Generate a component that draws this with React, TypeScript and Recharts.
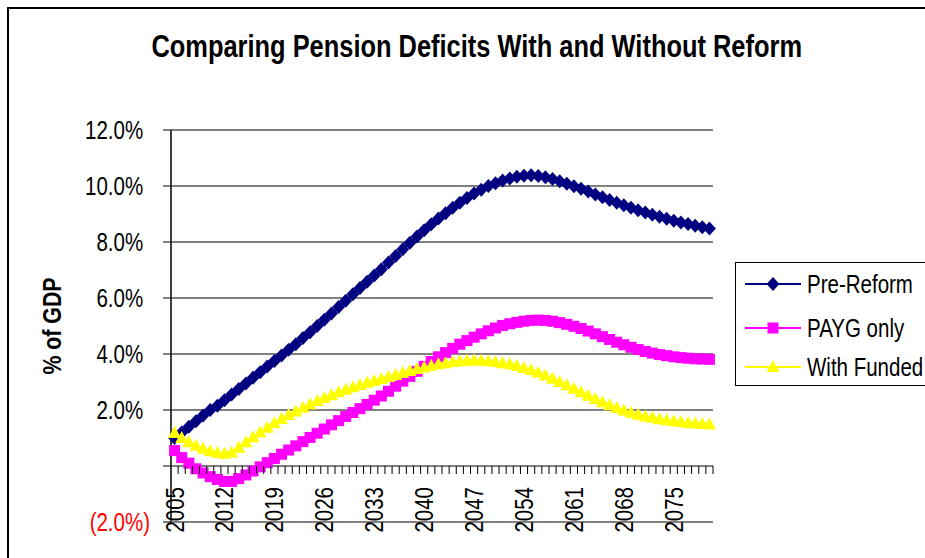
import React from "react";
import { LineChart, Line, XAxis, YAxis, CartesianGrid, ReferenceLine } from "recharts";

// Chart data
const years = [
  2005, 2006, 2007, 2008, 2009, 2010, 2011, 2012, 2013, 2014, 2015, 2016, 2017, 2018, 2019,
  2020, 2021, 2022, 2023, 2024, 2025, 2026, 2027, 2028, 2029, 2030, 2031, 2032, 2033, 2034,
  2035, 2036, 2037, 2038, 2039, 2040, 2041, 2042, 2043, 2044, 2045, 2046, 2047, 2048, 2049,
  2050, 2051, 2052, 2053, 2054, 2055, 2056, 2057, 2058, 2059, 2060, 2061, 2062, 2063, 2064,
  2065, 2066, 2067, 2068, 2069, 2070, 2071, 2072, 2073, 2074, 2075, 2076, 2077, 2078, 2079, 2080,
];

const preReform = [
  1.0, 1.2, 1.4, 1.6, 1.8, 2.0, 2.15, 2.35, 2.55, 2.75, 2.95, 3.15, 3.35, 3.55, 3.75,
  3.95, 4.15, 4.35, 4.57, 4.78, 5.0, 5.22, 5.45, 5.68, 5.9, 6.13, 6.36, 6.58, 6.8, 7.03,
  7.27, 7.5, 7.74, 7.97, 8.2, 8.42, 8.63, 8.84, 9.03, 9.22, 9.4, 9.57, 9.73, 9.87, 10.0,
  10.1, 10.2, 10.27, 10.33, 10.37, 10.38, 10.36, 10.31, 10.25, 10.17, 10.08, 9.99, 9.9, 9.8, 9.7,
  9.6, 9.5, 9.4, 9.31, 9.22, 9.13, 9.05, 8.97, 8.9, 8.83, 8.76, 8.7, 8.64, 8.58, 8.53, 8.48,
];

const paygOnly = [
  0.55, 0.3, 0.1, -0.1, -0.25, -0.38, -0.48, -0.55, -0.55, -0.45, -0.32, -0.18, -0.03, 0.12, 0.27,
  0.42, 0.57, 0.72, 0.87, 1.02, 1.17, 1.32, 1.47, 1.62, 1.77, 1.91, 2.05, 2.2, 2.35, 2.5,
  2.67, 2.85, 3.03, 3.2, 3.38, 3.56, 3.73, 3.9, 4.05, 4.2, 4.35, 4.48, 4.6, 4.72, 4.83,
  4.93, 5.02, 5.08, 5.13, 5.17, 5.2, 5.21, 5.2, 5.17, 5.12, 5.06, 4.99, 4.91, 4.82, 4.72,
  4.62, 4.52, 4.42, 4.33, 4.24, 4.16, 4.09, 4.03, 3.98, 3.94, 3.9, 3.87, 3.85, 3.83, 3.82, 3.81,
];

const withFunded = [
  1.18, 1.0, 0.85, 0.72, 0.62, 0.53, 0.47, 0.44, 0.48, 0.65, 0.85, 1.03, 1.2, 1.37, 1.53,
  1.68, 1.82, 1.95, 2.08, 2.2, 2.32, 2.43, 2.53, 2.63, 2.72, 2.81, 2.89, 2.97, 3.04, 3.11,
  3.18, 3.25, 3.32, 3.39, 3.46, 3.52, 3.58, 3.63, 3.67, 3.71, 3.74, 3.76, 3.77, 3.76, 3.74,
  3.71, 3.67, 3.63, 3.57, 3.5, 3.42, 3.33, 3.23, 3.12, 3.0, 2.88, 2.76, 2.63, 2.51, 2.39,
  2.28, 2.17, 2.07, 1.98, 1.9, 1.83, 1.77, 1.72, 1.67, 1.63, 1.6, 1.57, 1.54, 1.52, 1.5, 1.48,
];

const yTicks = [-2, 0, 2, 4, 6, 8, 10, 12];
const seriesNames = ["Pre-Reform", "PAYG only", "With Funded"];
const seriesColors = ["#000080", "#FF00FF", "#FFFF00"];

const data = years.map((year, i) => ({
  year: String(year),
  pre: preReform[i],
  payg: paygOnly[i],
  funded: withFunded[i],
}));

// layout (Arial Narrow look: Liberation Sans squeezed horizontally)
const FONT = '"Liberation Sans", Arial, sans-serif';
const NARROW = 0.82;
const W = 925;
const H = 558;
const PLOT_LEFT = 171;
const PLOT_RIGHT = 713;
const PLOT_TOP = 130;
const PLOT_BOTTOM = 522;
const Y_MIN = -2;
const Y_MAX = 12;
const zeroY = PLOT_TOP + ((Y_MAX - 0) / (Y_MAX - Y_MIN)) * (PLOT_BOTTOM - PLOT_TOP);
const step = (PLOT_RIGHT - PLOT_LEFT) / years.length;

const Marker = ({ shape, cx, cy, color }: any) => {
  if (cx == null || cy == null) return null;
  if (shape === "diamond") {
    return <path d={`M${cx},${cy - 7}L${cx + 6.5},${cy}L${cx},${cy + 7}L${cx - 6.5},${cy}Z`} fill={color} />;
  }
  if (shape === "square") {
    return <rect x={cx - 5.5} y={cy - 5.5} width={11} height={11} fill={color} />;
  }
  return <path d={`M${cx},${cy - 7}L${cx + 6.5},${cy + 5}L${cx - 6.5},${cy + 5}Z`} fill={color} />;
};

const shapes = ["diamond", "square", "triangle"];

const makeDot = (shape: string, color: string) => (props: any) => (
  <Marker key={`${shape}-${props.index}`} shape={shape} cx={props.cx} cy={props.cy} color={color} />
);

const YTick = (props: any) => {
  const { x, y, payload } = props;
  const v = payload.value;
  if (v === 0) return null;
  const label = `${Math.abs(v).toFixed(1)}%`;
  return (
    <g transform={`translate(${x}, ${y}) scale(${NARROW}, 1)`}>
      <text x={0} y={0} dy="0.36em" textAnchor="end" fontFamily={FONT} fontSize={25} fill={v < 0 ? "#FF0000" : "#000"}>
        {v < 0 ? `(${label})` : label}
        {v > 0 && <tspan fill="transparent">)</tspan>}
      </text>
    </g>
  );
};

const XTick = (props: any) => {
  const { x, index, payload } = props;
  return (
    <g>
      <line x1={x + step / 2} x2={x + step / 2} y1={zeroY} y2={zeroY + 8} stroke="#000" />
      {index % 7 === 0 && (
        <g transform={`translate(${x}, ${zeroY + 21}) rotate(-90) scale(${NARROW}, 1)`}>
          <text x={0} y={0} textAnchor="end" dy="0.36em" fontFamily={FONT} fontSize={25} fill="#000">
            {payload.value}
          </text>
        </g>
      )}
    </g>
  );
};

const YLabel = (props: any) => {
  const vb = props.viewBox || {};
  const cy = (vb.y || PLOT_TOP) + (vb.height || PLOT_BOTTOM - PLOT_TOP) / 2;
  return (
    <g transform={`translate(52, ${cy}) rotate(-90) scale(${NARROW}, 1)`}>
      <text x={0} y={0} textAnchor="middle" dy="0.36em" fontFamily={FONT} fontSize={26} fontWeight="bold" fill="#000">
        % of GDP
      </text>
    </g>
  );
};

const narrowSpan: React.CSSProperties = {
  display: "inline-block",
  transform: `scaleX(${NARROW})`,
  whiteSpace: "nowrap",
};

const LegendBox = () => (
  <div
    style={{
      position: "absolute",
      left: 735,
      top: 262,
      width: 200,
      height: 124,
      border: "1px solid #000",
      background: "#fff",
      boxSizing: "border-box",
    }}
  >
    {seriesNames.map((name, i) => (
      <div
        key={name}
        style={{ position: "absolute", left: 9, top: [7, 51, 90][i], display: "flex", alignItems: "center", height: 28 }}
      >
        <svg width={56} height={20}>
          <line x1={0} x2={56} y1={10} y2={10} stroke={seriesColors[i]} strokeWidth={2} />
          <Marker shape={shapes[i]} cx={28} cy={10} color={seriesColors[i]} />
        </svg>
        <span
          style={{
            ...narrowSpan,
            transformOrigin: "left center",
            fontFamily: FONT,
            fontSize: 25,
            marginLeft: 6,
            color: "#000",
          }}
        >
          {name}
        </span>
      </div>
    ))}
  </div>
);

export default function App() {
  return (
    <div style={{ position: "absolute", left: 0, top: 0, width: W, height: H, background: "#fff", overflow: "hidden" }}>
      <div
        style={{
          position: "absolute",
          left: 7,
          top: 7,
          width: W + 20,
          height: H + 20,
          border: "2px solid #000",
        }}
      />
      <div
        style={{
          position: "absolute",
          left: 0,
          width: 953,
          top: 29,
          textAlign: "center",
          fontFamily: FONT,
          fontSize: 31,
          fontWeight: "bold",
          color: "#000",
        }}
      >
        <span style={{ ...narrowSpan, transformOrigin: "center center" }}>
          Comparing Pension Deficits With and Without Reform
        </span>
      </div>
      <div style={{ position: "absolute", left: 0, top: 0 }}>
        <LineChart width={W} height={H} data={data} margin={{ top: PLOT_TOP, right: W - PLOT_RIGHT, bottom: 0, left: 0 }}>
          <CartesianGrid vertical={false} stroke="#000" strokeWidth={1} />
          <XAxis
            dataKey="year"
            interval={0}
            height={H - PLOT_BOTTOM}
            padding={{ left: step / 2, right: step / 2 }}
            tickLine={false}
            axisLine={{ stroke: "#808080", strokeWidth: 2 }}
            tick={<XTick />}
          />
          <YAxis
            width={PLOT_LEFT}
            domain={[Y_MIN, Y_MAX]}
            ticks={yTicks}
            allowDataOverflow
            tickSize={8}
            tickMargin={13}
            tickLine={{ stroke: "#000" }}
            axisLine={{ stroke: "#404040", strokeWidth: 2 }}
            tick={<YTick />}
            label={<YLabel />}
          />
          <YAxis
            yAxisId="r"
            orientation="right"
            width={0}
            domain={[Y_MIN, Y_MAX]}
            tick={false}
            tickLine={false}
            axisLine={{ stroke: "#808080", strokeWidth: 2 }}
          />
          <ReferenceLine y={Y_MAX} stroke="#808080" strokeWidth={2} />
          <Line
            dataKey="pre"
            name={seriesNames[0]}
            stroke={seriesColors[0]}
            strokeWidth={2}
            dot={makeDot("diamond", seriesColors[0])}
            isAnimationActive={false}
          />
          <Line
            dataKey="payg"
            name={seriesNames[1]}
            stroke={seriesColors[1]}
            strokeWidth={2}
            dot={makeDot("square", seriesColors[1])}
            isAnimationActive={false}
          />
          <Line
            dataKey="funded"
            name={seriesNames[2]}
            stroke={seriesColors[2]}
            strokeWidth={2}
            dot={makeDot("triangle", seriesColors[2])}
            isAnimationActive={false}
          />
        </LineChart>
      </div>
      <LegendBox />
    </div>
  );
}
